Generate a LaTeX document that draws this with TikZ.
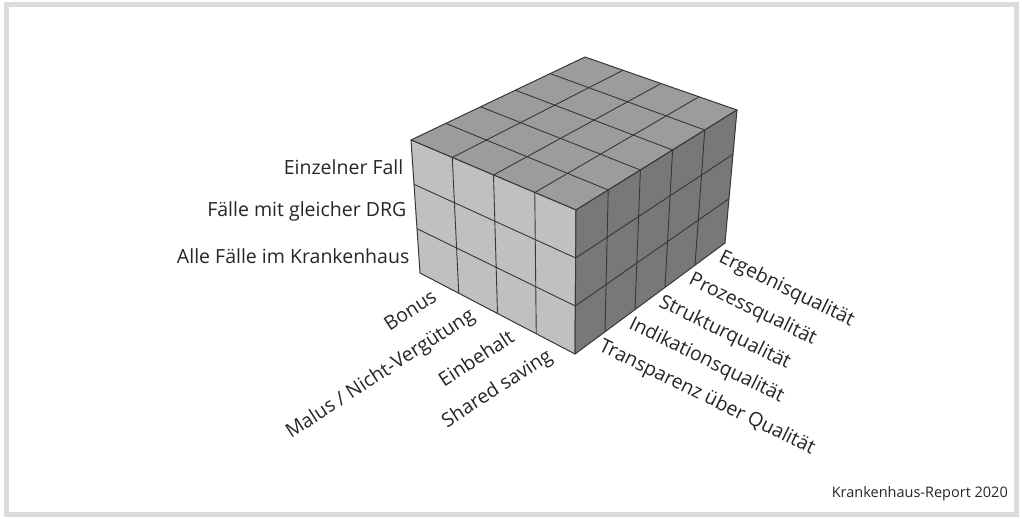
\documentclass[tikz,border=0pt]{standalone}
\usepackage{fontspec}
\setmainfont{Open Sans}
\usetikzlibrary{calc}
\definecolor{cubetop}{RGB}{156,156,156}
\definecolor{cubefront}{RGB}{192,192,192}
\definecolor{cubeside}{RGB}{120,120,120}
\definecolor{cubeline}{RGB}{55,55,55}
\definecolor{framegray}{RGB}{220,220,220}
\begin{document}
\begin{tikzpicture}[x=1pt,y=-1pt,
  face/.style={draw=cubeline,line width=1pt,line join=round},
  gridline/.style={cubeline,line width=0.9pt},
  lbl/.style={font=\fontsize{19.5}{22}\selectfont,text=black!85,inner sep=0pt}]
  \useasboundingbox (0,0) rectangle (1022,519);
  \fill[white] (0,0) rectangle (1022,519);
  \draw[framegray,line width=5pt] (6.5,4.5) rectangle (1016.5,514.5);
  % cube corners
  \coordinate (FT) at (576,210);
  \coordinate (LT) at (411,140);
  \coordinate (BT) at (585,57);
  \coordinate (RT) at (737,110);
  \coordinate (FB) at (575,354);
  \coordinate (LB) at (420,273);
  \coordinate (RB) at (725,243);
  % faces
  \filldraw[face,fill=cubetop] (FT) -- (LT) -- (BT) -- (RT) -- cycle;
  \filldraw[face,fill=cubefront] (LT) -- (FT) -- (FB) -- (LB) -- cycle;
  \filldraw[face,fill=cubeside] (FT) -- (RT) -- (RB) -- (FB) -- cycle;
  % grid on top
  \foreach \i in {1,2,3}
    \draw[gridline] ($(FT)!{\i/4}!(LT)$) -- ($(RT)!{\i/4}!(BT)$);
  \foreach \j in {1,...,4}
    \draw[gridline] ($(FT)!{\j/5}!(RT)$) -- ($(LT)!{\j/5}!(BT)$);
  % grid on front
  \foreach \i in {1,2,3}
    \draw[gridline] ($(LT)!{\i/4}!(FT)$) -- ($(LB)!{\i/4}!(FB)$);
  \foreach \k in {1,2}
    \draw[gridline] ($(LT)!{\k/3}!(LB)$) -- ($(FT)!{\k/3}!(FB)$);
  % grid on side
  \foreach \j in {1,...,4}
    \draw[gridline] ($(FT)!{\j/5}!(RT)$) -- ($(FB)!{\j/5}!(RB)$);
  \foreach \k in {1,2}
    \draw[gridline] ($(FT)!{\k/3}!(FB)$) -- ($(RT)!{\k/3}!(RB)$);
  % levels
  \node[lbl,anchor=east] (fall) at ($(LT)!{1/6}!(LB)+(-9,5)$) {Einzelner Fall};
  \node[lbl,anchor=east] (drg) at ($(LT)!{3/6}!(LB)+(-9,5)$) {Fälle mit gleicher DRG};
  \node[lbl,anchor=east] (haus) at ($(LT)!{5/6}!(LB)+(-9,5)$) {Alle Fälle im Krankenhaus};
  % instruments
  \foreach \t [count=\i] in {Bonus,Malus / Nicht-Vergütung,Einbehalt,Shared saving}
    \node[lbl,anchor=east,rotate=33] (inst\i) at ($(LB)!{(2*\i-1)/8}!(FB)+(-5,11)$) {\t};
  % quality dimensions
  \foreach \t [count=\j] in {Transparenz über Qualität,Indikationsqualität,Strukturqualität,Prozessqualität,Ergebnisqualität}
    \node[lbl,anchor=west,rotate=-26] (qual\j) at ($(FB)!{(2*\j-1)/10}!(RB)+(10,3)$) {\t};
  \node[font=\fontsize{14.5}{17}\selectfont,text=black!85,anchor=east,inner sep=0pt] (quelle) at (1008,494) {Krankenhaus-Report 2020};
\end{tikzpicture}
\end{document}
